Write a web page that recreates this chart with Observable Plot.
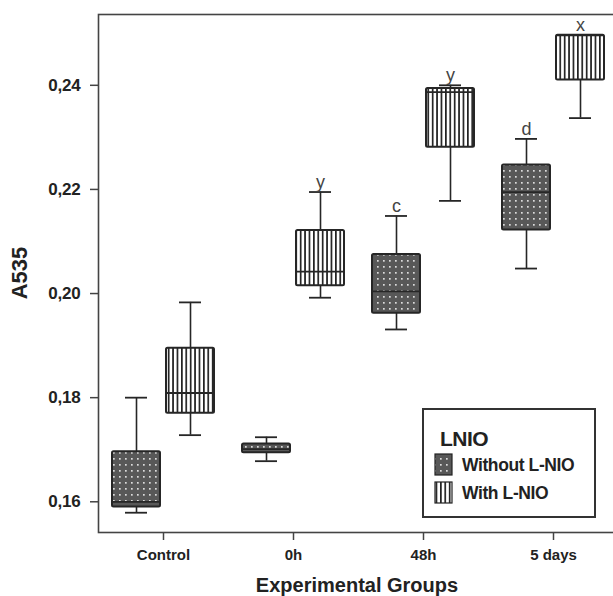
<!DOCTYPE html>
<html>
<head>
<meta charset="utf-8">
<script src="https://cdn.jsdelivr.net/npm/d3@7"></script>
<script src="https://cdn.jsdelivr.net/npm/@observablehq/plot@0.6"></script>
<style>
  html, body { margin: 0; padding: 0; background: #fff; }
  #chart { position: relative; width: 613px; height: 596px; }
  svg { font-family: "Liberation Sans", Arial, sans-serif; }
</style>
</head>
<body>
<div id="chart"></div>
<script>
const groups = ["Control", "0h", "48h", "5 days"];
const seriesNames = ["Without L-NIO", "With L-NIO"];
const yTicks = [0.16, 0.18, 0.20, 0.22, 0.24];

const withoutLow  = [0.1579, 0.1678, 0.1931, 0.2048];
const withoutQ1   = [0.1590, 0.1694, 0.1962, 0.2122];
const withoutMed  = [0.1600, 0.1701, 0.2004, 0.2195];
const withoutQ3   = [0.1696, 0.1711, 0.2075, 0.2247];
const withoutHigh = [0.1800, 0.1724, 0.2149, 0.2297];
const withoutLetters = ["", "", "c", "d"];

const withLow  = [0.1728, 0.1992, 0.2178, 0.2337];
const withQ1   = [0.1770, 0.2015, 0.2281, 0.2410];
const withMed  = [0.1809, 0.2042, 0.2387, 0.2496];
const withQ3   = [0.1895, 0.2121, 0.2394, 0.2496];
const withHigh = [0.1983, 0.2195, 0.2400, 0.2496];
const withLetters = ["", "y", "y", "x"];

const build = (low, q1, med, q3, high, letters) =>
  groups.map((g, i) => ({group: g, low: low[i], q1: q1[i], med: med[i], q3: q3[i], high: high[i], letter: letters[i]}));

const without = build(withoutLow, withoutQ1, withoutMed, withoutQ3, withoutHigh, withoutLetters);
const withL = build(withLow, withQ1, withMed, withQ3, withHigh, withLetters);

const ink = "#262626";
const boxInset = 41;   // band 130 → box 48 wide
const capInset = 54;   // cap ~22 wide
const off = 27;

function boxMarks(data, dx, fill) {
  return [
    Plot.ruleX(data, {x: "group", y1: "low", y2: "high", dx, stroke: ink, strokeWidth: 1.6}),
    Plot.tickY(data, {x: "group", y: "low", dx, insetLeft: capInset, insetRight: capInset, stroke: ink, strokeWidth: 1.8}),
    Plot.tickY(data, {x: "group", y: "high", dx, insetLeft: capInset, insetRight: capInset, stroke: ink, strokeWidth: 1.8}),
    Plot.rectY(data, {x: "group", y1: "q1", y2: "q3", dx, insetLeft: boxInset, insetRight: boxInset, fill, stroke: ink, strokeWidth: 2, rx: 1.5}),
    Plot.tickY(data, {x: "group", y: "med", dx, insetLeft: boxInset, insetRight: boxInset, stroke: ink, strokeWidth: 1.8}),
    Plot.text(data, {x: "group", y: "high", dx, dy: -4, text: "letter", lineAnchor: "bottom", fontSize: 18, fill: "#444", fontFamily: "Liberation Sans, Arial, sans-serif"})
  ];
}

const yDomain = [0.1541, 0.2536];

const svg = Plot.plot({
  width: 613,
  height: 596,
  marginTop: 14,
  marginBottom: 64,
  marginLeft: 98,
  marginRight: 0,
  style: {background: "#fff", fontFamily: "Liberation Sans, Arial, sans-serif"},
  x: {type: "band", domain: groups, range: [98, 618], padding: 0, label: null},
  y: {domain: yDomain, label: null},
  marks: [
    Plot.frame({stroke: "#444", strokeWidth: 1.6, insetRight: -6}),
    Plot.axisY({ticks: yTicks, tickSize: 8, tickPadding: 10, tickFormat: d => d3.format(".2f")(d).replace(".", ","), fontWeight: "bold", stroke: "#444", strokeWidth: 1.5, fill: "#222"}),
    Plot.axisX({tickSize: 8, tickPadding: 9, fontWeight: "bold", stroke: "#444", strokeWidth: 1.5, fill: "#222", label: null}),
    ...boxMarks(without, -off, "url(#dots)"),
    ...boxMarks(withL, off, "url(#stripes)"),
  ]
});

const s = d3.select(svg);
s.selectAll('g[aria-label="y-axis tick label"], g[aria-label="y-axis tick label"] text')
  .style("font-size", "17px").style("font-weight", "bold").style("letter-spacing", "-0.2px");
s.selectAll('g[aria-label="x-axis tick label"], g[aria-label="x-axis tick label"] text')
  .style("font-size", "15px").style("font-weight", "bold").style("letter-spacing", "0px");

const defs = s.insert("defs", ":first-child");
const dots = defs.append("pattern").attr("id", "dots").attr("patternUnits", "userSpaceOnUse")
  .attr("width", 6).attr("height", 6);
dots.append("rect").attr("width", 6).attr("height", 6).attr("fill", "#585858");
dots.append("rect").attr("x", 2).attr("y", 2).attr("width", 1.7).attr("height", 1.7).attr("fill", "#dcdcdc");
const stripes = defs.append("pattern").attr("id", "stripes").attr("patternUnits", "userSpaceOnUse")
  .attr("width", 4.4).attr("height", 10);
stripes.append("rect").attr("width", 4.4).attr("height", 10).attr("fill", "#fff");
stripes.append("rect").attr("x", 0).attr("y", 0).attr("width", 1.7).attr("height", 10).attr("fill", "#222");

// axis titles
s.append("text").attr("x", 357).attr("y", 592).attr("text-anchor", "middle")
  .attr("font-size", 20).attr("font-weight", "bold").attr("fill", "#222").text("Experimental Groups");
s.append("text").attr("transform", "translate(27,273) rotate(-90)").attr("text-anchor", "middle")
  .attr("font-size", 22).attr("font-weight", "bold").attr("fill", "#222").text("A535");

// legend
const lg = s.append("g").attr("text-anchor", "start");
lg.append("rect").attr("x", 423).attr("y", 409).attr("width", 172).attr("height", 108)
  .attr("fill", "#fff").attr("stroke", "#333").attr("stroke-width", 2);
lg.append("text").attr("x", 440).attr("y", 446).attr("font-size", 21).attr("font-weight", "bold")
  .attr("letter-spacing", "-0.5").attr("fill", "#222").text("LNIO");
const items = [{name: seriesNames[0], fill: "url(#dots)", y: 454}, {name: seriesNames[1], fill: "url(#stripes)", y: 482}];
for (const it of items) {
  lg.append("rect").attr("x", 435).attr("y", it.y).attr("width", 17).attr("height", 21)
    .attr("fill", it.fill).attr("stroke", "#222").attr("stroke-width", 1.2);
  lg.append("text").attr("x", 462).attr("y", it.y + 17).attr("font-size", 17.5).attr("font-weight", "bold")
    .attr("letter-spacing", "-0.4").attr("fill", "#222").text(it.name);
}

document.getElementById("chart").appendChild(svg);
</script>
</body>
</html>
